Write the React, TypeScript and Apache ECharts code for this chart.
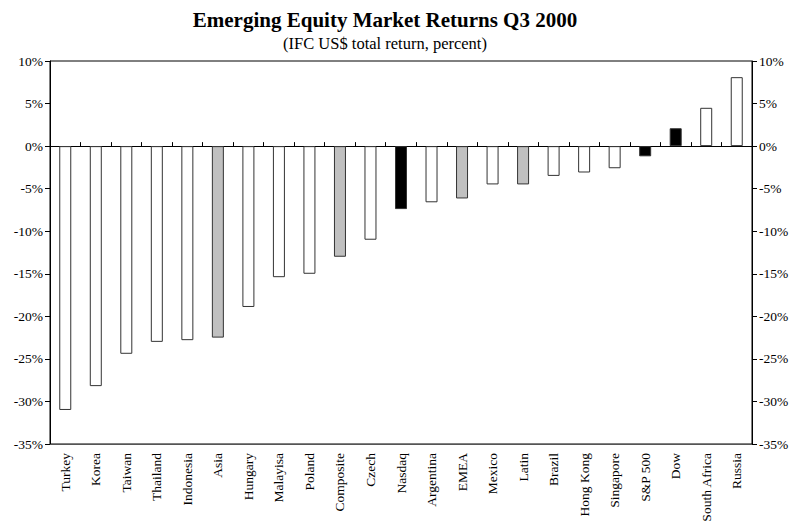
import React, { useEffect, useRef } from "react";
import * as echarts from "echarts";

const categories = ["Turkey","Korea","Taiwan","Thailand","Indonesia","Asia","Hungary","Malayisa","Poland","Composite","Czech","Nasdaq","Argentina","EMEA","Mexico","Latin","Brazil","Hong Kong","Singapore","S&P 500","Dow","South Africa","Russia"];
const returns = [-31.0,-28.2,-24.4,-23.0,-22.8,-22.5,-18.9,-15.4,-15.0,-13.0,-11.0,-7.4,-6.6,-6.15,-4.5,-4.5,-3.5,-3.1,-2.6,-1.2,2.1,4.5,8.1];
const barKinds = ["m","m","m","m","m","r","m","m","m","r","m","u","m","r","m","r","m","m","m","u","u","m","m"];
const kindColors: Record<string, string> = { m: "#ffffff", r: "#c0c0c0", u: "#000000" };
const yMin = -35;
const yMax = 10;
const yStep = 5;

export default function App() {
  const ref = useRef<HTMLDivElement>(null);
  useEffect(() => {
    if (!ref.current) return;
    const chart = echarts.init(ref.current, undefined, { renderer: "svg" });
    const font = "'Liberation Serif', 'Times New Roman', serif";
    const yCommon = {
      type: "value" as const,
      min: yMin,
      max: yMax,
      interval: yStep,
      splitLine: { show: false },
      axisLine: { show: true, lineStyle: { color: "#000", width: 1 } },
      axisTick: { show: true, length: 5, lineStyle: { color: "#000" } },
      axisLabel: { formatter: "{value}%", color: "#000", fontFamily: font, fontSize: 13.5, margin: 7 },
    };
    chart.setOption({
      animation: false,
      backgroundColor: "#fff",
      title: {
        text: "Emerging Equity Market Returns Q3 2000",
        subtext: "(IFC US$ total return, percent)",
        left: 380,
        textAlign: "center",
        top: 4,
        itemGap: 5,
        textStyle: { fontFamily: font, fontWeight: "bold", fontSize: 21, color: "#000" },
        subtextStyle: { fontFamily: font, fontSize: 16.5, color: "#000" },
      },
      grid: { left: 50, right: 48, top: 61, bottom: 83, show: true, borderColor: "#000", borderWidth: 1 },
      xAxis: [
        {
          type: "category",
          data: categories,
          position: "bottom",
          axisLine: { show: true, onZero: false, lineStyle: { color: "#555" } },
          axisTick: { show: false },
          axisLabel: { rotate: 90, interval: 0, margin: 9, color: "#000", fontFamily: font, fontSize: 13.5 },
        },
        {
          type: "category",
          data: categories,
          position: "bottom",
          axisLine: { show: true, onZero: true, lineStyle: { color: "#000" } },
          axisTick: { show: true, inside: true, length: 4, interval: 0, lineStyle: { color: "#000" } },
          axisLabel: { show: false },
        },
      ],
      yAxis: [
        { ...yCommon, position: "left" },
        { ...yCommon, position: "right" },
      ],
      series: [
        {
          type: "bar",
          xAxisIndex: 0,
          yAxisIndex: 0,
          barWidth: 12,
          data: returns.map((v, i) => ({
            value: v,
            itemStyle: { color: kindColors[barKinds[i]], borderColor: "#333", borderWidth: 1 },
          })),
        },
      ],
    });
    return () => chart.dispose();
  }, []);
  return <div ref={ref} style={{ position: "fixed", left: 0, top: 0, width: 800, height: 527 }} />;
}
